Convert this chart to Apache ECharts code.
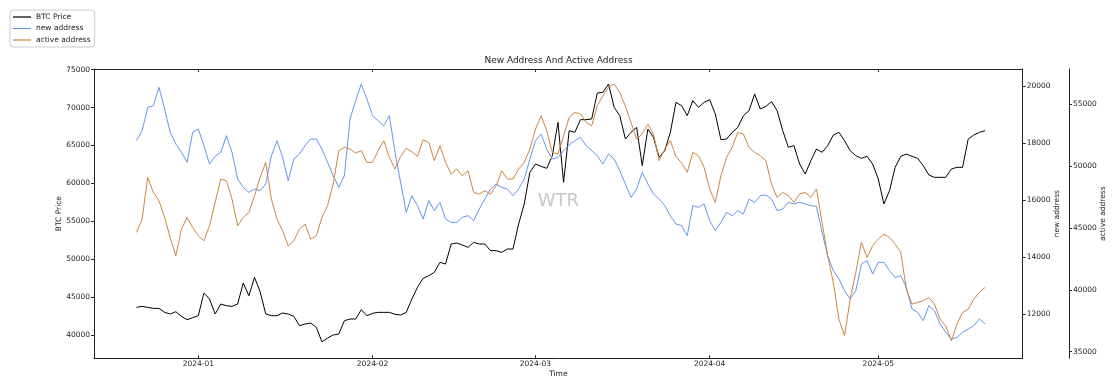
<!DOCTYPE html>
<html>
<head>
<meta charset="utf-8">
<script src="https://cdn.jsdelivr.net/npm/echarts@6/dist/echarts.min.js"></script>
<style>
html,body{margin:0;padding:0;background:#fff;}
#chart{width:1117px;height:387px;}
</style>
</head>
<body>
<div id="chart"></div>
<script>
// ---- data (daily) ----
const startDay = '2023-12-21';

const btcPrice = [
  43646, 43778, 43646, 43514, 43514, 42987, 42767, 43075, 42459, 42019, 42283,
  42547, 45537, 44746, 42767, 44086, 43866, 43778, 44086, 46857, 45186, 47604, 45713, 42767, 42547, 42547, 42899,
  42767, 42459, 41227, 41447, 41579, 41007, 39100, 39600, 39996, 40128, 41887, 42107, 42107, 43338, 42547,
  42855, 42987, 42987, 42987, 42723, 42635, 42987, 44746, 46285, 47473, 47824, 48264, 49584, 49364, 52002,
  52134, 51871, 51563, 52222, 52002, 52002, 51123, 51123, 50903, 51343, 51343, 54641, 57280, 61458,
  62558, 62250, 61986, 63657, 68055, 60139, 66956, 66736, 68407, 68407, 68495, 71925, 72013, 73113, 70034,
  68935, 65856, 66736, 67395, 62338, 67176, 66076, 63437, 64317, 66736, 70694, 70254, 68935, 70914, 70034, 70694,
  71046, 69155, 65768, 65856, 66736, 67395, 68935, 69594, 71793, 69814, 70166, 70782, 69594, 66956, 64757,
  64977, 62558, 61238, 62997, 64537, 64097, 64977, 66384, 66736, 65636, 64317, 63657, 63305, 63569, 62558,
  60579, 57280, 59039, 62118, 63569, 63877, 63569, 63305, 62338, 61106,
  60798, 60798, 60798, 61898, 62118, 62118, 65856, 66384, 66736, 66956
];

const newAddress = [
  18084, 18434, 19252, 19310, 19953, 19193, 18376, 17967, 17675, 17325, 18376,
  18493, 17909, 17266, 17535, 17675, 18259, 17675, 16741, 16449, 16273, 16390, 16332, 16565, 17558, 18084, 17500,
  16682, 17441, 17617, 17909, 18142, 18142, 17792, 17325, 16857, 16449, 16857, 18843, 19485, 20069, 19544,
  18960, 18785, 18609, 18960, 17675, 16624, 15573, 16157, 15806, 15339, 15981, 15631, 15923, 15339, 15222,
  15222, 15397, 15456, 15281, 15689, 16040, 16390, 16565, 16449, 16390, 16157, 16390, 16741, 17441,
  18084, 18317, 17792, 17441, 17500, 17733, 17932, 18084, 18201, 17909, 17733, 17558, 17266, 17617, 17441,
  17033, 16565, 16098, 16390, 16974, 16565, 16215, 16040, 15806, 15456, 15164, 15105, 14755, 15806, 15748, 15865,
  15281, 14930, 15222, 15573, 15456, 15631, 15514, 16040, 15923, 16157, 16180, 16040, 15631, 15689, 15923,
  15865, 15923, 15865, 15806, 15783, 14872, 14054, 13529, 13237, 12828, 12536, 12828, 13762, 13879, 13412,
  13821, 13821, 13529, 13295, 13353, 12945, 12185, 12069, 11777, 12302,
  12127, 11660, 11368, 11134, 11193, 11368, 11485, 11601, 11835, 11660
];

const activeAddress = [
  44631, 45708, 49075, 47863, 47190, 45843, 44227, 42746, 44901, 45843, 45035,
  44362, 43958, 45170, 47055, 48940, 48805, 47324, 45170, 45843, 46247, 47594, 49075, 50287, 47324, 45708, 44766,
  43554, 43958, 44901, 45305, 44093, 44362, 45843, 46786, 48536, 51229, 51498, 51364, 51041, 51229, 50287,
  50287, 51229, 52037, 50691, 49748, 50771, 51418, 51148, 50771, 52118, 51902, 50421, 51633, 50287, 49344,
  49748, 49209, 49613, 47863, 47728, 47998, 47728, 48401, 49613, 48940, 48940, 49748, 50287, 51364,
  52980, 54057, 52845, 51094, 50960, 52441, 53922, 54326, 54191, 53518, 53249, 54865, 55673, 56346, 56615,
  55942, 54811, 53518, 52172, 52576, 53384, 52576, 50421, 51364, 52037, 50771, 50233, 49479, 51094, 50825, 49883,
  48132, 47055, 49209, 50691, 51498, 52710, 52576, 51498, 51094, 50825, 50421, 48536, 47459, 47863, 47594,
  47055, 47728, 47863, 47459, 48132, 45439, 42746, 40592, 37629, 36300, 39245, 41400, 43823, 42612, 43554,
  44093, 44497, 44227, 43689, 43015, 40053, 38841, 38976, 39111, 39380,
  38841, 37629, 37091, 35879, 37226, 38168, 38437, 39245, 39784, 40188
];

const monthTicks = ['2024-01', '2024-02', '2024-03', '2024-04', '2024-05'];
const btcTicks = [40000, 45000, 50000, 55000, 60000, 65000, 70000, 75000];
const newTicks = [12000, 14000, 16000, 18000, 20000];
const activeTicks = [35000, 40000, 45000, 50000, 55000];

// ---- build ----
const DAY = 86400000;
const t0 = Date.parse(startDay + 'T00:00:00Z');
const times = btcPrice.map((_, i) => t0 + i * DAY);
const jan1 = Date.UTC(2024, 0, 1);
const xMin = jan1 - 18.56 * DAY;
const xMax = jan1 + 146.7 * DAY;
const monthTs = monthTicks.map(m => Date.parse(m + '-01T00:00:00Z'));

const FONT = 'DejaVu Sans';
const INK = '#222';
const FS = 7.5;

function pairs(vals) { return vals.map((v, i) => [times[i], v]); }
function fmtMonth(v) {
  const d = new Date(v);
  const m = d.getUTCMonth() + 1;
  return d.getUTCFullYear() + '-' + (m < 10 ? '0' + m : m);
}
function fmtPlain(v) { return String(Math.round(v)); }

function yAxisDef(opts) {
  return Object.assign({
    type: 'value',
    nameLocation: 'middle',
    nameRotate: 90,
    nameMoveOverlap: false,
    nameTextStyle: { fontSize: FS, color: INK, fontFamily: FONT },
    axisLine: { show: true, onZero: false, lineStyle: { color: INK, width: 1 } },
    axisTick: { show: true, inside: false, length: 3, customValues: opts.ticks, lineStyle: { color: INK, width: 1 } },
    axisLabel: { show: true, customValues: opts.ticks, formatter: fmtPlain, margin: 4, fontSize: FS, color: INK, fontFamily: FONT },
    splitLine: { show: false }
  }, opts.base);
}

const chart = echarts.init(document.getElementById('chart'), null, { renderer: 'canvas' });
chart.setOption({
  animation: false,
  backgroundColor: '#fff',
  textStyle: { fontFamily: FONT },
  title: {
    text: 'New Address And Active Address',
    left: 'center',
    top: 56,
    padding: 0,
    textStyle: { fontSize: 9, fontWeight: 'normal', color: INK, fontFamily: FONT }
  },
  legend: {
    orient: 'vertical',
    left: 10,
    top: 10,
    padding: [3, 4, 3, 3],
    itemGap: 3.5,
    itemWidth: 18,
    itemHeight: 1.2,
    icon: 'rect',
    selectedMode: false,
    borderColor: '#cccccc',
    borderWidth: 1,
    borderRadius: 3,
    backgroundColor: '#fff',
    textStyle: { fontSize: FS, color: INK, fontFamily: FONT },
    data: ['BTC Price', 'new address', 'active address']
  },
  grid: {
    left: 94,
    right: 94.3,
    top: 69,
    bottom: 28.7,
    containLabel: false,
    outerBoundsMode: 'none'
  },
  graphic: [{
    type: 'text',
    x: 558.3,
    y: 201.7,
    z: 0,
    silent: true,
    style: {
      text: 'WTR',
      fontSize: 18,
      fontFamily: FONT,
      fill: '#c8c8c8',
      align: 'center',
      verticalAlign: 'middle'
    }
  }],
  xAxis: [{
    type: 'value',
    position: 'bottom',
    min: xMin,
    max: xMax,
    name: 'Time',
    nameLocation: 'middle',
    nameGap: 12,
    nameMoveOverlap: false,
    nameTextStyle: { fontSize: FS, color: INK, fontFamily: FONT },
    axisLine: { show: true, onZero: false, lineStyle: { color: INK, width: 1 } },
    axisTick: { show: true, inside: true, length: 3, customValues: monthTs, lineStyle: { color: INK } },
    axisLabel: { show: true, customValues: monthTs, formatter: fmtMonth, margin: 2, fontSize: FS, color: INK, fontFamily: FONT },
    splitLine: { show: false }
  }, {
    type: 'value',
    position: 'top',
    min: xMin,
    max: xMax,
    axisLine: { show: true, onZero: false, lineStyle: { color: INK, width: 1 } },
    axisTick: { show: true, inside: true, length: 3, customValues: monthTs, lineStyle: { color: INK } },
    axisLabel: { show: false },
    splitLine: { show: false }
  }],
  yAxis: [
    yAxisDef({ ticks: btcTicks, base: { position: 'left', min: 36926, max: 75092, name: 'BTC Price', nameGap: 31 } }),
    yAxisDef({ ticks: newTicks, base: { position: 'right', min: 10459, max: 20595, name: 'new address', nameGap: 30 } }),
    yAxisDef({ ticks: activeTicks, base: { position: 'right', offset: 46.3, min: 34467, max: 57827, name: 'active address', nameGap: 30 } })
  ],
  series: [{
    name: 'BTC Price',
    type: 'line',
    xAxisIndex: 0,
    yAxisIndex: 0,
    data: pairs(btcPrice),
    symbol: 'none',
    showSymbol: false,
    lineStyle: { color: '#000000', width: 1 },
    itemStyle: { color: '#000000' }
  }, {
    name: 'new address',
    type: 'line',
    xAxisIndex: 0,
    yAxisIndex: 1,
    data: pairs(newAddress),
    symbol: 'none',
    showSymbol: false,
    lineStyle: { color: '#6495ED', width: 1 },
    itemStyle: { color: '#6495ED' }
  }, {
    name: 'active address',
    type: 'line',
    xAxisIndex: 0,
    yAxisIndex: 2,
    data: pairs(activeAddress),
    symbol: 'none',
    showSymbol: false,
    lineStyle: { color: '#CD853F', width: 1 },
    itemStyle: { color: '#CD853F' }
  }]
});
</script>
</body>
</html>
